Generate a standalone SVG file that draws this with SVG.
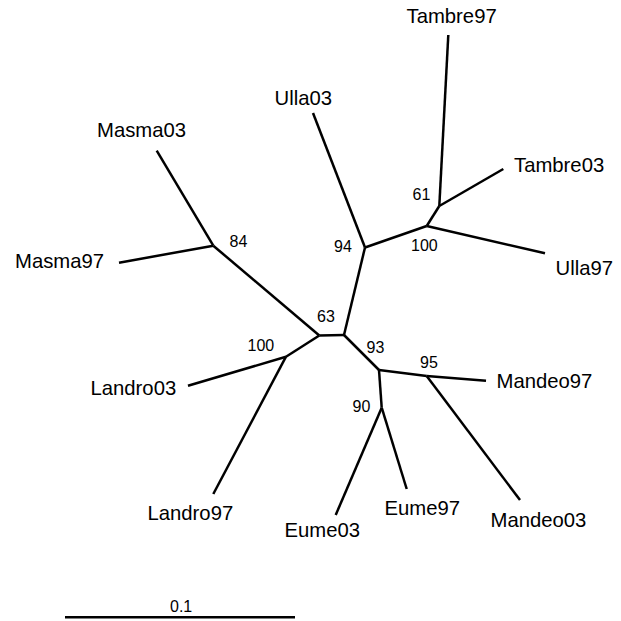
<svg xmlns="http://www.w3.org/2000/svg" width="621" height="621" viewBox="0 0 621 621">
<style>
.e{stroke:#000;stroke-width:2.5;fill:none;stroke-linecap:butt;stroke-linejoin:round}
.t{font-family:"Liberation Sans",Arial,sans-serif;font-size:20.3px;fill:#000}
.b{font-family:"Liberation Sans",Arial,sans-serif;font-size:16px;fill:#000}
</style>
<rect width="621" height="621" fill="#fff"/>
<g id="connectors">
<path class="e" d="M319.3,335.5 L344,335"/>
<path class="e" d="M344,335 L365,247.5"/>
<path class="e" d="M365,247.5 L313,113"/>
<path class="e" d="M365,247.5 L426.7,226"/>
<path class="e" d="M426.7,226 L439.3,206"/>
<path class="e" d="M439.3,206 L448.3,35"/>
<path class="e" d="M439.3,206 L503.3,169"/>
<path class="e" d="M426.7,226 L545,253.3"/>
<path class="e" d="M319.3,335.5 L213.3,245.7"/>
<path class="e" d="M213.3,245.7 L156.7,150.7"/>
<path class="e" d="M213.3,245.7 L119,262.7"/>
<path class="e" d="M319.3,335.5 L286,356.7"/>
<path class="e" d="M286,356.7 L188,385.8"/>
<path class="e" d="M286,356.7 L213.3,494"/>
<path class="e" d="M344,335 L379,370"/>
<path class="e" d="M379,370 L426.7,376"/>
<path class="e" d="M426.7,376 L486,380.7"/>
<path class="e" d="M426.7,376 L520,500"/>
<path class="e" d="M379,370 L381.7,407.7"/>
<path class="e" d="M381.7,407.7 L335.7,515"/>
<path class="e" d="M381.7,407.7 L406.7,489"/>
</g>
<g id="Tambre97"><text class="t" x="406.5" y="23">Tambre97</text></g>
<g id="Tambre03"><text class="t" x="514" y="171.5">Tambre03</text></g>
<g id="Ulla97"><text class="t" x="555.5" y="275">Ulla97</text></g>
<g id="Ulla03"><text class="t" x="274.5" y="105">Ulla03</text></g>
<g id="Masma03"><text class="t" x="97" y="136.5">Masma03</text></g>
<g id="Masma97"><text class="t" x="15" y="268.3">Masma97</text></g>
<g id="Landro03"><text class="t" x="90.5" y="395">Landro03</text></g>
<g id="Landro97"><text class="t" x="147.5" y="520">Landro97</text></g>
<g id="Eume03"><text class="t" x="284.5" y="536.7">Eume03</text></g>
<g id="Eume97"><text class="t" x="384.5" y="514.5">Eume97</text></g>
<g id="Mandeo03"><text class="t" x="490.5" y="527">Mandeo03</text></g>
<g id="Mandeo97"><text class="t" x="496.5" y="388.3">Mandeo97</text></g>
<g id="bootstrap">
<text class="b" x="412.5" y="200">61</text>
<text class="b" x="411" y="250.7">100</text>
<text class="b" x="334" y="252.3">94</text>
<text class="b" x="317" y="321.7">63</text>
<text class="b" x="229.5" y="247.3">84</text>
<text class="b" x="247.5" y="350.7">100</text>
<text class="b" x="366.5" y="353.3">93</text>
<text class="b" x="420" y="368.3">95</text>
<text class="b" x="352.5" y="411.7">90</text>
</g>
<g id="scalebar">
<path d="M65,617.3 L295,617.3" stroke="#000" stroke-width="2.5"/>
<text class="b" x="170" y="611.7">0.1</text>
</g>
</svg>
